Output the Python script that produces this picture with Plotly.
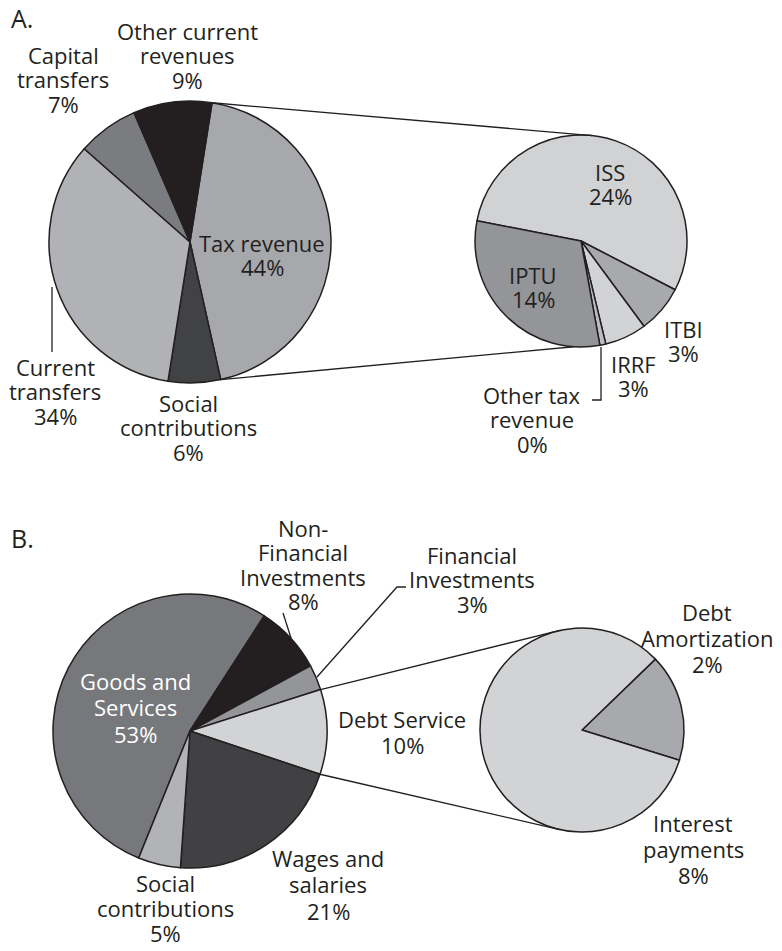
import numpy as np
import plotly.graph_objects as go

W, H = 782, 951
PAD = 8  # the page body keeps its default 8px margin
FW, FH = W - 2 * PAD, H - 2 * PAD

# ---- data ----
rev_labels = ["Tax revenue", "Social<br>contributions", "Current<br>transfers",
              "Capital<br>transfers", "Other current<br>revenues"]
rev_values = [44, 6, 34, 7, 9]
rev_colors = ["#a7a8ab", "#414244", "#b1b2b5", "#7b7c7f", "#231f20"]

tax_labels = ["ISS", "ITBI", "IRRF", "Other tax<br>revenue", "IPTU"]
tax_values = [24, 3.2, 2.8, 0.4, 13.6]
tax_colors = ["#d1d2d4", "#a7a9ac", "#d1d3d4", "#bcbec0", "#939598"]

exp_labels = ["Goods and<br>Services", "Non-<br>Financial<br>Investments",
              "Financial<br>Investments", "Debt Service", "Wages and<br>salaries",
              "Social<br>contributions"]
exp_values = [53, 8, 3, 10, 21, 5]
exp_colors = ["#77787b", "#231f20", "#939598", "#d1d3d4", "#414042", "#b1b3b6"]

debt_labels = ["Debt<br>Amortization", "Interest<br>payments"]
debt_values = [1.7, 8.3]
debt_colors = ["#a7a9ac", "#d1d3d4"]


# ---- layout helpers (page pixel -> paper) ----
def px(x):
    return (x - PAD) / FW


def py(y):
    return 1 - (y - PAD) / FH


def domain(cx, cy, r):
    return dict(x=[px(cx - r), px(cx + r)], y=[py(cy + r), py(cy - r)])


def edge(cx, cy, r, deg):
    a = np.radians(deg)
    return cx + r * np.sin(a), cy - r * np.cos(a)


def bounds(values, rotation):
    cum = np.concatenate([[0], np.cumsum(values)])
    return rotation + cum / cum[-1] * 360


TXT = "#231f20"
FONT = "Open Sans"
FS = 22

pies = [
    # values, colors, center, radius, rotation
    (rev_values, rev_colors, (190, 242), 141, 9),
    (tax_values, tax_colors, (581, 241), 106, -79),
    (exp_values, exp_colors, (190, 731), 137, -158),
    (debt_values, debt_colors, (582, 730), 102, 46),
]

fig = go.Figure()
for vals, cols, (cx, cy), r, rot in pies:
    fig.add_trace(go.Pie(
        values=vals, sort=False, direction="clockwise", rotation=rot,
        marker=dict(colors=cols, line=dict(color="#231f20", width=1.5)),
        textinfo="none", hoverinfo="skip", showlegend=False,
        domain=domain(cx, cy, r),
    ))

shapes = []


def seg(pts):
    path = "M " + " L ".join(f"{px(x)},{py(y)}" for x, y in pts)
    shapes.append(dict(type="path", path=path, xref="paper", yref="paper",
                       line=dict(color="#231f20", width=1.3)))


# connectors between the big and the small pies, from slice boundaries
ba = bounds(rev_values, 9)
seg([edge(190, 242, 141, ba[0]), edge(581, 241, 106, 6)])
seg([edge(190, 242, 141, ba[1]), edge(581, 241, 106, 184)])
bb = bounds(exp_values, -158)
seg([edge(190, 731, 137, bb[3]), edge(582, 730, 102, -12)])
seg([edge(190, 731, 137, bb[4]), edge(582, 730, 102, 192)])

# leader lines
seg([(52, 287), (52, 352)])
seg([(601, 347), (601, 400), (592, 400)])
seg([(283, 613), (291, 638)])
seg([(406, 587), (397, 587), (317, 677)])

annotations = []


def label(text, x, y, dy, color=TXT):
    # one annotation per line, each in a box of one line pitch
    h = dy - 0.5
    shift = (h / 2 - 0.293 * FS) - (1.069 - 0.293) / 2 * FS
    for i, line in enumerate(text.split("<br>")):
        annotations.append(dict(
            text=line, x=px(x), y=py(y + i * dy), xref="paper", yref="paper",
            xanchor="center", yanchor="middle", showarrow=False,
            height=h, valign="bottom", borderpad=0, borderwidth=0, yshift=shift,
            font=dict(family=FONT, size=FS, color=color)))


def pct(v):
    return f"{round(v)}%"


# label positions: (x, y of first line)
rev_pos = [(262, 243), (188, 403), (55, 367), (63, 55), (187, 31)]
tax_pos = [(610, 172), (683, 329), (633, 364), (532, 395), (533, 275)]
exp_pos = [(135, 681), (303, 528), (472, 555), (402, 719), (328, 858), (165, 883)]
debt_pos = [(707, 612), (693, 823)]
exp_dy = [26.5, 24.5, 24.5, 26.5, 26.5, 25]

for labs, vals, pos, dys in [(rev_labels, rev_values, rev_pos, [24.5] * 5),
                             (tax_labels, tax_values, tax_pos, [24.5] * 5),
                             (exp_labels, exp_values, exp_pos, exp_dy),
                             (debt_labels, debt_values, debt_pos, [26, 26])]:
    for lab, v, (x, y), dy in zip(labs, vals, pos, dys):
        col = "#ffffff" if lab.startswith("Goods") else TXT
        label(lab + "<br>" + pct(v), x, y, dy, col)

for t, y in [("A.", 18), ("B.", 538)]:
    annotations.append(dict(text=t, x=px(9), y=py(y), xref="paper", yref="paper",
                            xanchor="left", yanchor="middle", showarrow=False,
                            font=dict(family=FONT, size=25, color=TXT)))

fig.update_layout(
    width=FW, height=FH,
    margin=dict(l=0, r=0, t=0, b=0),
    paper_bgcolor="white", plot_bgcolor="white",
    shapes=shapes, annotations=annotations,
)

fig.write_html("out.html")
